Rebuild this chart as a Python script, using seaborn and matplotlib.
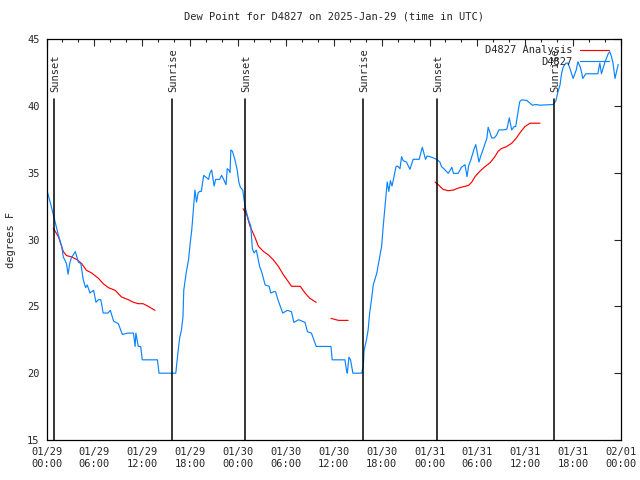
import matplotlib
matplotlib.use('Agg')
import matplotlib.pyplot as plt
from matplotlib.lines import Line2D
from matplotlib.ticker import MultipleLocator
import seaborn as sns
import pandas as pd

# Observed dew point (hours since 01/29 00:00 UTC, deg F)
obs_hours = [0.0, 0.5, 1.0, 1.5, 1.9, 2.1, 2.5, 2.7, 2.9, 3.1, 3.6, 4.0, 4.3, 4.6, 4.9, 5.1,
             5.45, 5.9, 6.2, 6.5, 6.8, 7.1, 7.7, 8.0, 8.4, 9.0, 9.5, 10.2, 10.9, 11.1, 11.2,
             11.5, 11.8, 12.0, 12.8, 13.6, 13.9, 14.1, 16.2, 16.5, 16.7, 16.9, 17.1, 17.2,
             17.5, 17.8, 18.0, 18.2, 18.4, 18.6, 18.8, 19.0, 19.2, 19.4, 19.7, 20.1, 20.3,
             20.5, 20.7, 20.9, 21.0, 21.2, 21.7, 21.95, 22.2, 22.5, 22.65, 22.85, 23.0, 23.1,
             23.3, 23.6, 23.9, 24.1, 24.3, 24.6, 24.75, 24.95, 25.3, 25.6, 25.7, 25.8, 26.0,
             26.3, 26.7, 27.0, 27.4, 27.9, 28.1, 28.5, 28.7, 29.0, 29.6, 30.2, 30.7, 31.0,
             31.6, 32.4, 32.7, 33.2, 33.8, 35.65, 35.8, 36.8, 37.4, 37.6, 37.7, 37.9, 38.1,
             38.4, 39.5, 39.7, 39.8, 40.1, 40.3, 40.5, 40.75, 40.95, 41.4, 41.7, 42.0, 42.2,
             42.5, 42.7, 42.9, 43.1, 43.3, 43.55, 43.8, 44.0, 44.3, 44.5, 44.7, 45.1, 45.55,
             45.95, 46.7, 47.1, 47.5, 47.7, 48.3, 48.9, 49.3, 49.5, 49.8, 50.35, 50.8, 51.0,
             51.6, 52.0, 52.45, 52.7, 52.9, 53.2, 53.6, 53.8, 54.0, 54.2, 54.4, 54.75, 55.2,
             55.35, 55.8, 56.1, 56.4, 56.7, 57.2, 57.7, 58.0, 58.3, 58.6, 58.8, 59.1, 59.3,
             59.55, 60.2, 60.9, 61.35, 61.8, 63.5, 63.85, 64.1, 64.35, 64.55, 64.75, 65.1,
             65.35, 65.6, 66.0, 66.4, 66.6, 66.9, 67.1, 67.2, 67.6, 68.7, 69.1, 69.35, 69.55,
             70.0, 70.4, 70.6, 70.8, 71.0, 71.25, 71.65]
obs_values = [33.8, 32.7, 31.5, 30.3, 29.5, 28.7, 28.2, 27.4, 28.2, 28.6, 29.1, 28.3, 28.2, 27.0,
              26.4, 26.6, 26.0, 26.2, 25.3, 25.5, 25.5, 24.5, 24.5, 24.7, 23.9, 23.7, 22.9, 23.0,
              23.0, 22.0, 23.0, 22.0, 22.0, 21.0, 21.0, 21.0, 21.0, 20.0, 20.0, 21.7, 22.7, 23.2,
              24.2, 26.2, 27.5, 28.5, 29.7, 30.7, 32.2, 33.7, 32.8, 33.5, 33.6, 33.6, 34.8, 34.6,
              34.5, 35.0, 35.2, 34.4, 34.0, 34.5, 34.5, 34.8, 34.5, 34.1, 35.3, 35.2, 35.0, 36.7,
              36.6, 36.0, 35.2, 34.3, 33.9, 33.7, 33.0, 32.3, 31.5, 31.0, 30.2, 29.3, 29.0, 29.2,
              28.0, 27.5, 26.6, 26.5, 26.0, 26.1, 26.1, 25.5, 24.5, 24.7, 24.6, 23.8, 24.0, 23.8,
              23.1, 23.0, 22.0, 22.0, 21.0, 21.0, 21.0, 20.2, 20.0, 21.2, 21.0, 20.0, 20.0, 20.5,
              21.7, 22.5, 23.2, 24.5, 25.6, 26.6, 27.5, 28.5, 29.5, 31.0, 33.0, 34.3, 33.6, 34.4,
              34.0, 34.7, 35.45, 35.5, 35.3, 36.2, 35.9, 35.8, 35.25, 36.0, 36.0, 36.9, 36.0,
              36.25, 36.15, 36.0, 35.8, 35.45, 35.3, 34.95, 35.4, 34.95, 34.95, 35.4, 35.6, 34.7,
              35.5, 36.0, 36.8, 37.1, 36.45, 35.8, 36.2, 36.8, 37.6, 38.4, 37.6, 37.6, 37.8, 38.2,
              38.2, 38.25, 39.1, 38.2, 38.45, 38.45, 39.55, 40.3, 40.45, 40.4, 40.05, 40.1, 40.05,
              40.1, 40.4, 41.05, 41.55, 42.4, 42.9, 43.2, 43.2, 42.8, 42.05, 42.7, 43.3, 42.9,
              42.4, 42.05, 42.4, 42.4, 42.4, 43.2, 42.4, 43.3, 43.9, 44.05, 43.7, 43.2, 42.05, 43.1]

# Analysis dew point, in separate runs (gaps between them)
ana_segment = [1] * 20 + [2] * 16 + [3] * 3 + [4] * 23
ana_hours = [0.85, 1.5, 2.1, 2.5, 3.15, 3.8, 4.4, 5.0, 5.65, 6.5, 7.1, 7.75, 8.6, 9.4, 10.25,
             10.9, 11.5, 12.1, 12.75, 13.6,
             24.65, 25.1, 25.5, 26.1, 26.55, 27.2, 27.8, 28.4, 29.05, 29.7, 30.3, 30.7, 31.8,
             32.4, 33.0, 33.8,
             35.65, 36.6, 37.8,
             48.7, 49.1, 49.7, 50.35, 51.0, 51.6, 52.25, 52.9, 53.3, 53.7, 54.3, 54.95, 55.6,
             56.2, 56.6, 57.0, 57.65, 58.3, 58.9, 59.3, 59.95, 60.6, 61.85]
ana_values = [30.85, 30.2, 29.1, 28.8, 28.7, 28.5, 28.2, 27.7, 27.5, 27.1, 26.7, 26.4, 26.2,
              25.7, 25.5, 25.3, 25.2, 25.2, 25.0, 24.7,
              32.3, 31.85, 31.0, 30.2, 29.5, 29.1, 28.85, 28.5, 28.0, 27.35, 26.85, 26.5, 26.5,
              26.0, 25.6, 25.3,
              24.1, 23.95, 23.95,
              34.3, 34.1, 33.75, 33.65, 33.7, 33.85, 33.95, 34.05, 34.3, 34.7, 35.1, 35.45,
              35.75, 36.2, 36.6, 36.8, 36.95, 37.2, 37.6, 37.95, 38.45, 38.7, 38.7]

# Sun events (hours since start)
sun_hours = [0.98, 15.69, 24.93, 39.7, 48.97, 63.6]
sun_labels = ['Sunset', 'Sunrise', 'Sunset', 'Sunrise', 'Sunset', 'Sunrise']

tick_hours = list(range(0, 73, 6))
tick_labels = ['01/29\n00:00', '01/29\n06:00', '01/29\n12:00', '01/29\n18:00',
               '01/30\n00:00', '01/30\n06:00', '01/30\n12:00', '01/30\n18:00',
               '01/31\n00:00', '01/31\n06:00', '01/31\n12:00', '01/31\n18:00',
               '02/01\n00:00']

obs = pd.DataFrame({'hour': obs_hours, 'dewpt': obs_values})
ana = pd.DataFrame({'hour': ana_hours, 'dewpt': ana_values, 'seg': ana_segment})

sns.set_style('white')
plt.rcParams['font.family'] = ['DejaVu Sans Mono']
plt.rcParams['font.size'] = 7

fig = plt.figure(figsize=(6.4, 4.8), dpi=100)
ax = fig.add_axes([0.0727, 0.0833, 0.8976, 0.8354])

blue = '#0a84ff'
red = '#ff0000'
sns.lineplot(data=ana, x='hour', y='dewpt', units='seg', estimator=None,
             color=red, lw=0.85, ax=ax, legend=False)
sns.lineplot(data=obs, x='hour', y='dewpt', color=blue, lw=0.85, ax=ax,
             estimator=None, legend=False)

for h, lab in zip(sun_hours, sun_labels):
    ax.plot([h, h], [15, 40.5], color='black', lw=1.1)
    ax.text(h + 0.15, 41.05, lab, rotation=90, ha='center', va='bottom', fontsize=7.5)

ax.set_xlim(0, 72)
ax.set_ylim(15, 45)
ax.set_xticks(tick_hours)
ax.set_xticklabels(tick_labels, fontsize=7.5, linespacing=1.3)
ax.xaxis.set_minor_locator(MultipleLocator(2))
ax.set_yticks(range(15, 46, 5))
ax.tick_params(axis='both', which='major', direction='in', length=5, width=0.8,
               top=True, right=True, pad=5, labelsize=7.5)
ax.tick_params(axis='x', which='minor', direction='in', length=2.5, width=0.8, top=True)
for s in ax.spines.values():
    s.set_color('black')
    s.set_linewidth(0.9)

ax.set_xlabel('')
ax.set_ylabel('degrees F', fontsize=7.5, labelpad=8)
ax.set_title('Dew Point for D4827 on 2025-Jan-29 (time in UTC)', fontsize=7.5, pad=14)

handles = [Line2D([], [], color=red, lw=0.85), Line2D([], [], color=blue, lw=0.85)]
ax.legend(handles, ['D4827 Analysis', 'D4827'], loc='upper right',
          bbox_to_anchor=(0.9895, 1.0), frameon=False,
          markerfirst=False, handlelength=2.8, handletextpad=0.7, labelspacing=0.15,
          borderaxespad=0.2, fontsize=7.5)

fig.savefig('out.png', dpi=100)
